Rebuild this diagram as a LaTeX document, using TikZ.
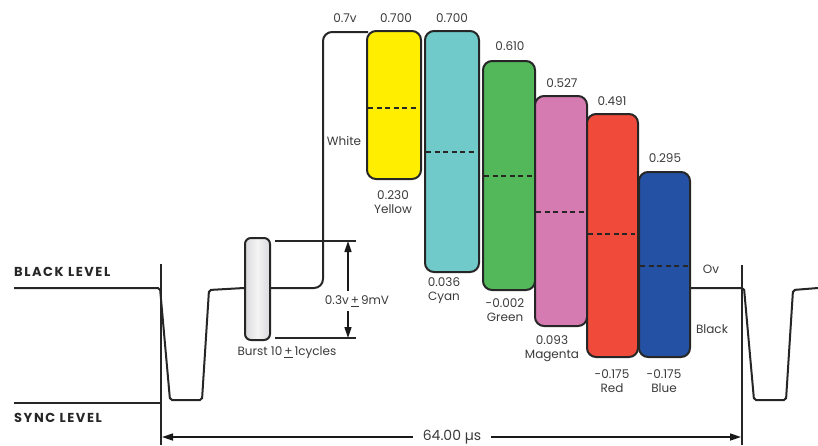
\documentclass[tikz,border=0pt]{standalone}
\usepackage{fontspec}
\setmainfont{Poppins}
\usetikzlibrary{arrows.meta}
\definecolor{cyel}{HTML}{FFEE00}
\definecolor{ccya}{HTML}{70CACA}
\definecolor{cgre}{HTML}{52B85A}
\definecolor{cmag}{HTML}{D67BB1}
\definecolor{cred}{HTML}{EF4A3A}
\definecolor{cblu}{HTML}{2451A3}
\definecolor{cgry}{HTML}{E3E3E6}
\definecolor{ctxt}{HTML}{3A3A3A}
\tikzset{
  bar/.style={draw=black!85, line width=2pt, rounded corners=9pt, inner sep=0pt},
  lbl/.style={text=ctxt, font=\fontsize{12}{14}\selectfont, inner sep=0pt, align=center},
  big/.style={text=black!85, font=\bfseries\fontsize{13}{15}\selectfont\addfontfeatures{LetterSpace=12}, inner sep=0pt, anchor=west},
  sig/.style={line width=2pt, black!85},
  mid/.style={dashed, dash pattern=on 5pt off 3.5pt, line width=2.2pt, black!85},
  arr/.style={line width=1.6pt, black!90, -{Triangle[length=11pt,width=7pt]}}
}
\begin{document}
\begin{tikzpicture}[x=1pt,y=-1pt]
\useasboundingbox (0,0) rectangle (818,445);
% levels
\node[big] (blk) at (14,272) {BLACK LEVEL};
\node[big] (syn) at (14,418) {SYNC LEVEL};
\draw[sig] (14,403) -- (160,403);
\draw[sig] (161,264) -- (161,445);
\draw[sig] (742,265) -- (742,445);
% burst
\node[bar, left color=cgry!90!gray, right color=cgry!90!gray, middle color=white!92!gray, rounded corners=6pt, minimum width=25pt, minimum height=102pt] (burst) at (257.5,289) {};
% waveform left
\draw[sig, rounded corners=2pt] (14,288) -- (160,288) -- (170,400) -- (202,400) -- (209,290) -- (burst.west |- 0,288);
\draw[sig, rounded corners=9pt] (burst.east |- 0,288) -- (323,288) -- (323,32) -- (368,32);
% bars
\node[bar, fill=cyel, minimum width=54pt, minimum height=148pt] (yel) at (394,105) {};
\node[bar, fill=ccya, minimum width=54pt, minimum height=241pt] (cya) at (452,151.5) {};
\node[bar, fill=cgre, minimum width=52pt, minimum height=229pt] (gre) at (509,175.5) {};
\node[bar, fill=cmag, minimum width=52pt, minimum height=230pt] (mag) at (561,211) {};
\node[bar, fill=cred, minimum width=51pt, minimum height=243pt] (red) at (612.5,235.5) {};
\node[bar, fill=cblu, minimum width=51pt, minimum height=185pt] (blu) at (664.5,264.5) {};
% dashes
\draw[mid] ([xshift=2pt]yel.west |- 0,108) -- ([xshift=-4pt]yel.east |- 0,108);
\draw[mid] ([xshift=2pt]cya.west |- 0,152) -- ([xshift=-4pt]cya.east |- 0,152);
\draw[mid] ([xshift=2pt]gre.west |- 0,176) -- ([xshift=-4pt]gre.east |- 0,176);
\draw[mid] ([xshift=2pt]mag.west |- 0,212) -- ([xshift=-4pt]mag.east |- 0,212);
\draw[mid] ([xshift=2pt]red.west |- 0,234) -- ([xshift=-4pt]red.east |- 0,234);
\draw[mid] ([xshift=2pt]blu.west |- 0,266) -- ([xshift=-1pt]blu.east |- 0,266);
% waveform right
\draw[sig, rounded corners=2pt] (blu.east |- 0,288) -- (744,288) -- (754,400) -- (786,400) -- (793,290) -- (818,288);
% burst dimension
\draw[sig, line width=1.8pt] (275,241) -- (356,241);
\draw[sig, line width=1.8pt] (275,338) -- (356,338);
\node[lbl] (amp) at (357,301) {0.3v\,\underline{+}\,9mV};
\coordinate (atop) at (348,241);
\coordinate (abot) at (348,338);
\draw[arr] (348,291) -- (atop);
\draw[arr] (348,311) -- (abot);
\node[lbl] (bl) at (287,353) {Burst 10\,\underline{+}\,1cycles};
% values
\node[lbl] (v0) at (345,18) {0.7v};
\node[lbl] (v1) at (396,18) {0.700};
\node[lbl] (v2) at (452,18) {0.700};
\node[lbl] (v3) at (510,46) {0.610};
\node[lbl] (v4) at (562,83) {0.527};
\node[lbl] (v5) at (612,101) {0.491};
\node[lbl] (v6) at (665,158) {0.295};
\node[lbl] (wh) at (344,141) {White};
\node[lbl] (l1) at (393,202) {0.230\\Yellow};
\node[lbl] (l2) at (444,291) {0.036\\Cyan};
\node[lbl] (l3) at (505,310) {-0.002\\Green};
\node[lbl] (l4) at (552,349) {0.093\\Magenta};
\node[lbl] (l5) at (612,381) {-0.175\\Red};
\node[lbl] (l6) at (664,381) {-0.175\\Blue};
\node[lbl] (ov) at (711,269) {Ov};
\node[lbl] (bk) at (712,329) {Black};
% period
\node[lbl, font=\fontsize{14}{16}\selectfont] (per) at (452,437) {64.00 µs};
\coordinate (pl) at (162,437);
\coordinate (pr) at (741,437);
\draw[arr] (per.west) ++(-10pt,0) -- (pl);
\draw[arr] (per.east) ++(10pt,0) -- (pr);
\end{tikzpicture}
\end{document}
